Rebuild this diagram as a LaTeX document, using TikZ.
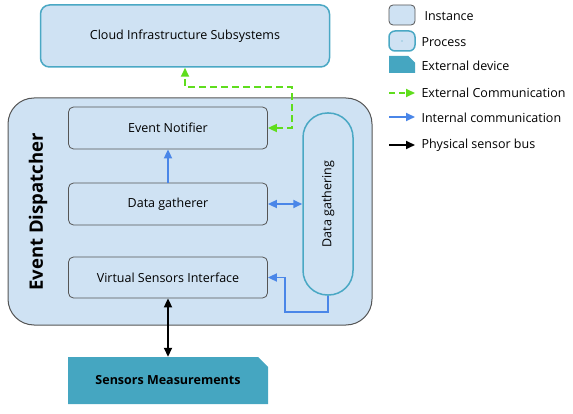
\documentclass[tikz,border=0pt]{standalone}
\usepackage{fontspec}
\setmainfont{Open Sans}
\usetikzlibrary{arrows.meta,shapes.misc}
\definecolor{boxfill}{HTML}{CFE2F3}
\definecolor{teal}{HTML}{4AA8C4}
\definecolor{devfill}{HTML}{45A6C1}
\definecolor{extgreen}{HTML}{5FDD1D}
\definecolor{intblue}{HTML}{4A86E8}
\definecolor{frame}{HTML}{555555}
\tikzset{
  instance/.style={draw=frame, fill=boxfill, line width=0.8pt, rounded corners=5pt},
  procbox/.style={draw=teal, fill=boxfill, line width=1.5pt},
  device/.style={chamfered rectangle, chamfered rectangle corners=north east,
    chamfered rectangle xsep=5pt, chamfered rectangle ysep=5pt, fill=devfill, draw=none},
  tip/.style={-{Triangle[length=9pt,width=8pt]}},
  tips/.style={{Triangle[length=9pt,width=8pt]}-{Triangle[length=9pt,width=8pt]}},
  ext/.style={extgreen, line width=1.7pt, dash pattern=on 7pt off 4pt},
  int/.style={intblue, line width=1.7pt},
  bus/.style={black, line width=1.7pt},
  lbl/.style={anchor=west}
}
\begin{document}
\begin{tikzpicture}[x=1pt,y=-1pt, font=\fontsize{12.5}{14}\selectfont]
  \useasboundingbox (0,0) rectangle (573,414);
  \node (cloud) [procbox, rounded corners=9pt, minimum width=289, minimum height=62] at (185,36) {Cloud Infrastructure Subsystems};
  \node (disp) [draw=frame, fill=boxfill, line width=1pt, rounded corners=26pt, minimum width=364, minimum height=227] at (190,211.5) {};
  \node (title) [rotate=90, font=\fontsize{18.5}{20}\selectfont\bfseries] at (38,212) {Event Dispatcher};
  \node (notif) [instance, minimum width=199, minimum height=42] at (168,128) {Event Notifier};
  \node (gath) [instance, minimum width=199, minimum height=42] at (168,204) {Data gatherer};
  \node (vsi) [instance, minimum width=199, minimum height=41] at (168,277.5) {Virtual Sensors Interface};
  \node (proc) [procbox, rounded corners=24.5pt, minimum width=50, minimum height=182] at (328,204) {};
  \node (proclbl) [rotate=90] at (proc) {Data gathering};
  \node (sens) [device, minimum width=200, minimum height=47, font=\fontsize{12.5}{14}\selectfont\bfseries] at (168,380.5) {Sensors Measurements};
  \coordinate (g1) at (292,128);
  \coordinate (g2) at (292,87);
  \coordinate (g3) at (185,87);
  \coordinate (b1) at (328,312);
  \coordinate (b2) at (285,312);
  \coordinate (b3) at (285,277.5);
  \begin{scope}
    \draw [ext, tips] (notif.east) -- (g1) -- (g2) -- (g3) -- (cloud.south);
    \draw [int, tip] (gath.north) -- (notif.south);
    \draw [int, tips] (gath.east) -- (proc.west |- gath.east);
    \draw [int, tip] (proc.south) -- (b1) -- (b2) -- (b3) -- (vsi.east);
    \draw [bus, tips] (vsi.south) -- (sens.north);
  \end{scope}
  % legend
  \node (kinst) [instance, rounded corners=4pt, minimum width=26, minimum height=20] at (402,15) {};
  \node (tinst) [lbl] at (421,16) {Instance};
  \node (kproc) [procbox, rounded corners=6pt, minimum width=26, minimum height=20] at (402,41) {};
  \fill [teal] (kproc) circle (0.6pt);
  \node (tproc) [lbl] at (418,42) {Process};
  \node (kdev) [device, chamfered rectangle xsep=4pt, chamfered rectangle ysep=4pt, minimum width=26, minimum height=17] at (402,64.5) {};
  \node (tdev) [lbl] at (418,66) {External device};
  \coordinate (e1) at (389,93);
  \coordinate (e2) at (415,93);
  \draw [ext, tip, dash pattern=on 6pt off 4pt] (e1) -- (e2);
  \node (text) [lbl] at (418,93) {External Communication};
  \coordinate (i1) at (389,117);
  \coordinate (i2) at (415,117);
  \draw [int, tip] (i1) -- (i2);
  \node (tint) [lbl] at (418,118) {Internal communication};
  \coordinate (p1) at (389,145);
  \coordinate (p2) at (415,145);
  \draw [bus, tip] (p1) -- (p2);
  \node (tbus) [lbl] at (418,145) {Physical sensor bus};
\end{tikzpicture}
\end{document}
